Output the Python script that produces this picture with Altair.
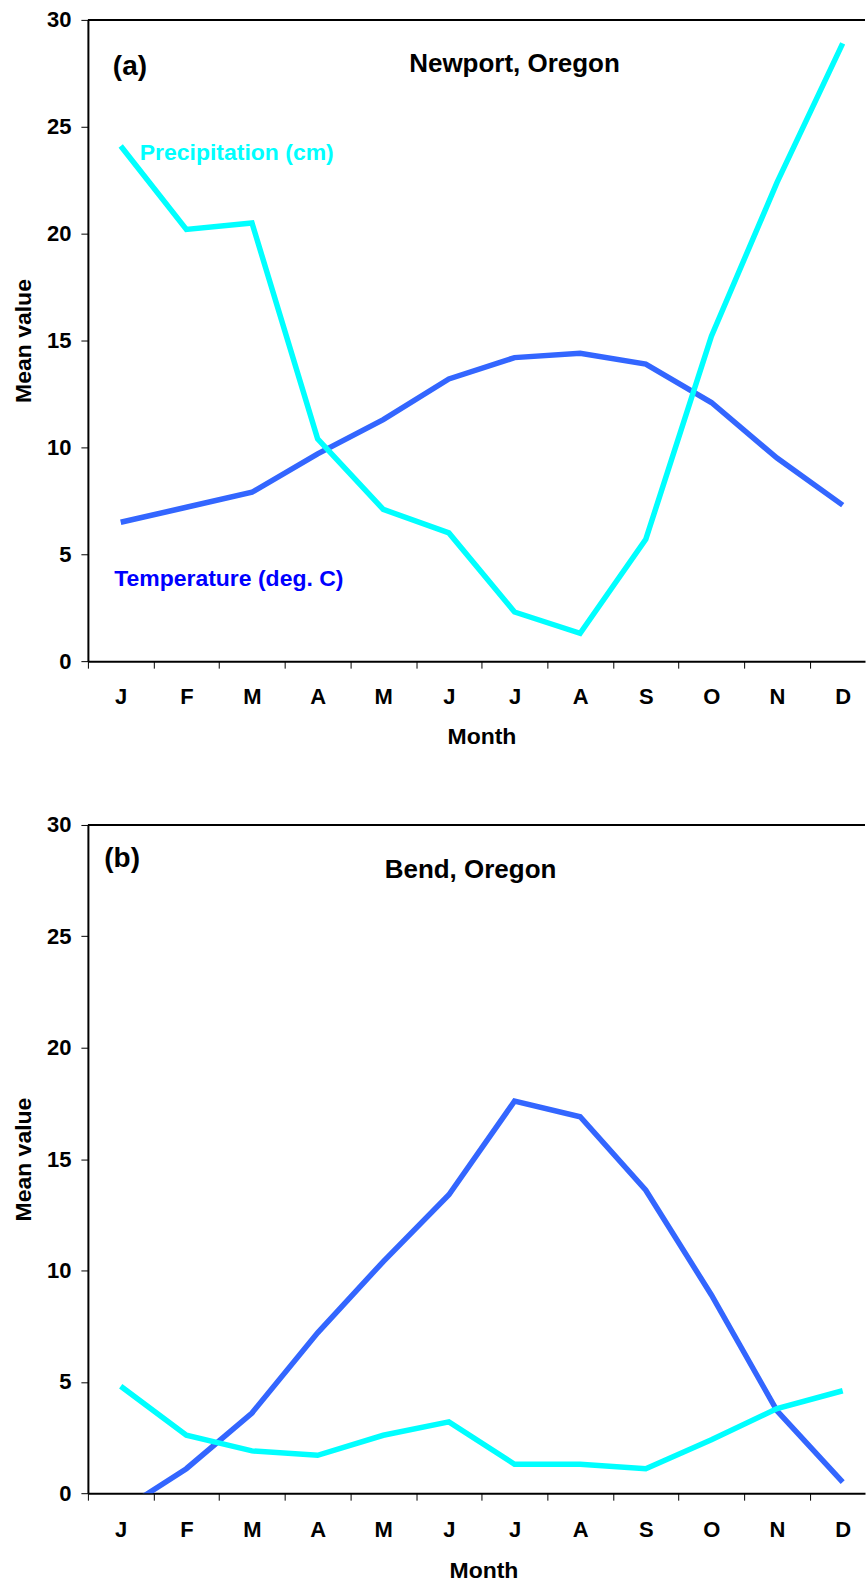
import json
import altair as alt
import pandas as pd

months = ["J", "F", "M", "A", "M", "J", "J", "A", "S", "O", "N", "D"]
month_num = list(range(1, 13))
month_edges = [m - 0.5 for m in month_num]

newport_precip = [24.1, 20.2, 20.5, 10.4, 7.1, 6.0, 2.3, 1.3, 5.7, 15.2, 22.4, 28.9]
newport_temp = [6.5, 7.2, 7.9, 9.7, 11.3, 13.2, 14.2, 14.4, 13.9, 12.1, 9.5, 7.3]
bend_precip = [4.8, 2.6, 1.9, 1.7, 2.6, 3.2, 1.3, 1.3, 1.1, 2.4, 3.8, 4.6]
bend_temp = [-0.8, 1.1, 3.6, 7.2, 10.4, 13.4, 17.6, 16.9, 13.6, 8.9, 3.7, 0.5]

y_ticks = [0, 5, 10, 15, 20, 25, 30]

FONT = "Liberation Sans"
PREC_COLOR = "#00FFFF"
TEMP_COLOR = "#3366FF"
TEMP_TEXT = "#0000FF"
W = 778
X_DOMAIN = [0.5, 12.34]
LINE_W = 5.5

label_expr = json.dumps(months) + "[datum.value - 1]"


def panel(temp, precip, height, ann, month_title_x, month_title_y, label_pad):
    df = pd.DataFrame({"m": month_num, "temp": temp, "precip": precip})
    xscale = alt.Scale(domain=X_DOMAIN, nice=False, zero=False)
    yscale = alt.Scale(domain=[0, 30], nice=False, zero=False)
    yaxis = alt.Axis(
        orient="left", values=y_ticks, grid=False, tickSize=7, tickWidth=1,
        tickColor="black", domainWidth=2, domainColor="black", labelFont=FONT,
        labelFontSize=22, labelFontWeight="bold", labelColor="black", labelPadding=10,
        labelFlush=False, title="Mean value", titleFont=FONT, titleFontSize=23,
        titleFontWeight="bold", titleColor="black", titlePadding=11,
    )
    xaxis_ticks = alt.Axis(
        values=month_edges, labels=False, title=None, grid=False, orient="bottom",
        tickSize=7, tickWidth=1, tickColor="black", domainWidth=2, domainColor="black",
    )
    xaxis_labels = alt.Axis(
        values=month_num, labelExpr=label_expr, ticks=False, tickSize=0, domain=False,
        grid=False, orient="bottom", labelFont=FONT, labelFontSize=22,
        labelFontWeight="bold", labelColor="black", labelBaseline="alphabetic",
        labelPadding=label_pad, labelFlush=False, labelOverlap=False,
        title="Month", titleFont=FONT, titleFontSize=23, titleFontWeight="bold",
        titleColor="black", titleBaseline="alphabetic", titleAlign="center",
        titleX=month_title_x, titleY=month_title_y,
    )
    base = alt.Chart(df)
    temp_line = base.mark_line(color=TEMP_COLOR, strokeWidth=LINE_W, clip=True).encode(
        x=alt.X("m:Q", scale=xscale, axis=xaxis_labels),
        y=alt.Y("temp:Q", scale=yscale, axis=yaxis),
    )
    prec_line = base.mark_line(color=PREC_COLOR, strokeWidth=LINE_W, clip=True).encode(
        x=alt.X("m:Q", scale=xscale, axis=xaxis_ticks),
        y=alt.Y("precip:Q", scale=yscale, axis=None),
    )
    top_rule = alt.Chart(pd.DataFrame({"v": [30]})).mark_rule(
        color="black", strokeWidth=2
    ).encode(y=alt.Y("v:Q", scale=yscale, axis=None))

    layers = [temp_line, prec_line, top_rule]
    for a in ann:
        t = alt.Chart(pd.DataFrame({"x": [a["x"]], "y": [a["y"]], "t": [a["text"]]})).mark_text(
            font=FONT, fontWeight="bold", fontSize=a["size"], color=a["color"],
            align=a["align"], baseline="alphabetic",
        ).encode(
            x=alt.X("x:Q", scale=xscale, axis=None),
            y=alt.Y("y:Q", scale=yscale, axis=None),
            text="t:N",
        )
        layers.append(t)
    return (
        alt.layer(*layers)
        .properties(width=W, height=height)
        .resolve_axis(x="independent", y="independent")
    )


ann_a = [
    {"x": 0.88, "y": 27.43, "text": "(a)", "size": 28, "color": "black", "align": "left"},
    {"x": 7.0, "y": 27.55, "text": "Newport, Oregon", "size": 26, "color": "black", "align": "center"},
    {"x": 1.29, "y": 23.43, "text": "Precipitation (cm)", "size": 23, "color": PREC_COLOR, "align": "left"},
    {"x": 0.90, "y": 3.5, "text": "Temperature (deg. C)", "size": 23, "color": TEMP_TEXT, "align": "left"},
]
ann_b = [
    {"x": 0.75, "y": 28.1, "text": "(b)", "size": 28, "color": "black", "align": "left"},
    {"x": 6.33, "y": 27.6, "text": "Bend, Oregon", "size": 26, "color": "black", "align": "center"},
]

top = panel(newport_temp, newport_precip, 642, ann_a, 394, 82, 42)
bottom = panel(bend_temp, bend_precip, 669, ann_b, 396, 84, 43)

chart = alt.vconcat(top, bottom, spacing=66).properties(
    padding={"left": 12, "top": 8, "right": 0, "bottom": 0},
    background="white",
).configure_view(strokeWidth=0)

chart.save("out.html", embed_options={"renderer": "svg", "actions": False})
